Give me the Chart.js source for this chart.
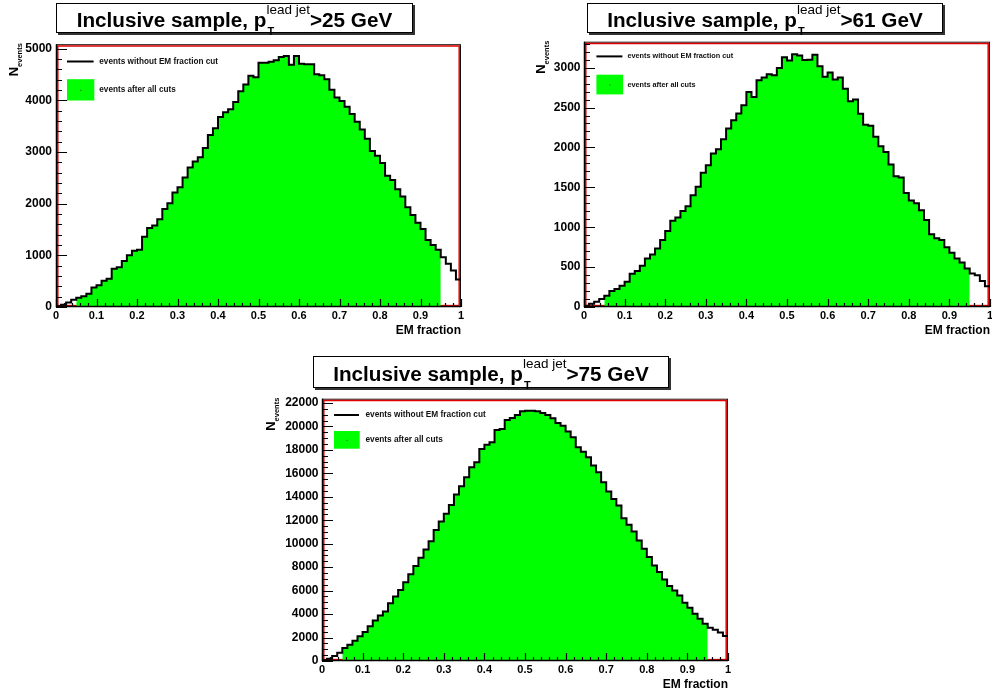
<!DOCTYPE html>
<html>
<head>
<meta charset="utf-8">
<script src="https://cdn.jsdelivr.net/npm/chart.js@4.4.0/dist/chart.umd.min.js"></script>
<style>
  body { margin: 0; width: 992px; height: 696px; background: #fff; position: relative; overflow: hidden;
         font-family: "Liberation Sans", Arial, sans-serif; }
  canvas { position: absolute; }
  .title { position: absolute; box-sizing: border-box; border: 1.5px solid #000; box-shadow: 2px 2px 0 #333;
           background: #fff; display: flex; justify-content: center; align-items: center; padding-top: 4px;
           font-weight: bold; font-size: 20.7px; white-space: nowrap; }
  .scr { position: relative; display: inline-block; }
  .sup { position: relative; top: -13px; font-weight: normal; font-size: 13.5px; }
  .sub { position: absolute; left: 1px; top: 18px; font-size: 11px; line-height: 1; }
</style>
</head>
<body>
<canvas id="h25" width="471" height="308" style="left:-4px;top:33px"></canvas>
<canvas id="h61" width="472" height="310" style="left:524px;top:31px"></canvas>
<canvas id="h75" width="472" height="307" style="left:262px;top:388px"></canvas>

<script>
// EM fraction of the leading jet, 80 bins from 0 to 1
var nBins = 80;
var cutLow = 0.05, cutHigh = 0.95;

var emPt25 = [15, 45, 85, 140, 180, 210, 255, 380, 420, 510,
  545, 740, 770, 890, 1000, 1090, 1110, 1360, 1530, 1580,
  1700, 1900, 2010, 2220, 2320, 2510, 2700, 2820, 2900, 3080,
  3330, 3460, 3680, 3770, 3830, 3970, 4180, 4310, 4480, 4450,
  4730, 4730, 4750, 4780, 4840, 4860, 4690, 4860, 4710, 4700,
  4700, 4510, 4490, 4410, 4210, 4060, 3990, 3880, 3740, 3590,
  3440, 3260, 3020, 2930, 2790, 2540, 2460, 2280, 2140, 1930,
  1780, 1630, 1510, 1300, 1200, 1110, 965, 840, 708, 535];

var emPt61 = [17, 40, 67, 100, 140, 200, 225, 267, 317, 417,
  450, 517, 609, 659, 734, 839, 951, 1081, 1122, 1202,
  1264, 1402, 1506, 1681, 1777, 1923, 1977, 2103, 2236, 2340,
  2424, 2528, 2695, 2633, 2841, 2875, 2916, 2904, 2995, 3130,
  3088, 3168, 3152, 3095, 3100, 3160, 3018, 2885, 2938, 2850,
  2875, 2735, 2578, 2600, 2422, 2284, 2272, 2134, 2016, 1942,
  1786, 1640, 1622, 1428, 1336, 1300, 1212, 1090, 913, 861,
  840, 749, 680, 607, 557, 482, 419, 398, 326, 261];

var emPt75 = [60, 200, 430, 710, 1100, 1390, 1720, 2100, 2480, 2970,
  3460, 3890, 4230, 4920, 5510, 6050, 6710, 7400, 8110, 8800,
  9500, 10220, 11180, 11890, 12550, 13310, 14190, 14900, 15670, 16520,
  16950, 18080, 18450, 18650, 19700, 19780, 20550, 20720, 20980, 21290,
  21340, 21340, 21290, 21150, 20980, 20690, 20290, 20070, 19560, 19070,
  18220, 17850, 17370, 16660, 16090, 15240, 14450, 13820, 13260, 12180,
  11610, 11040, 10280, 9570, 8860, 8150, 7580, 6960, 6390, 6020,
  5590, 4970, 4540, 4030, 3610, 3180, 2840, 2670, 2420, 2130];

var xTicks = [0, 0.1, 0.2, 0.3, 0.4, 0.5, 0.6, 0.7, 0.8, 0.9, 1];
var yTicks25 = [0, 1000, 2000, 3000, 4000, 5000];
var yTicks61 = [0, 500, 1000, 1500, 2000, 2500, 3000];
var yTicks75 = [0, 2000, 4000, 6000, 8000, 10000, 12000, 14000, 16000, 18000, 20000, 22000];

var ptCuts = ['25', '61', '75'];
var legendLabels = ['events without EM fraction cut', 'events after all cuts'];
var xTitle = 'EM fraction';

var FONT = '"Liberation Sans", Arial, sans-serif';

// step points at the lower bin edges, plus the closing edge
function stepPoints(values, from, to) {
  var pts = [];
  var w = 1 / nBins;
  for (var i = from; i < to; i++) {
    pts.push({x: i * w, y: values[i]});
  }
  pts.push({x: to * w, y: values[to - 1]});
  return pts;
}

function near(list, v, tol) {
  for (var i = 0; i < list.length; i++) {
    if (Math.abs(list[i] - v) < tol) return true;
  }
  return false;
}

// ROOT style frame, inner ticks, legend and axis titles
var rootPad = {
  id: 'rootPad',
  beforeDatasetsDraw: function(chart) {
    var a = chart.chartArea, ctx = chart.ctx;
    ctx.save();
    ctx.strokeStyle = '#111';
    ctx.lineWidth = 1;
    ctx.strokeRect(a.left + 0.5, a.top + 0.5, a.right - a.left - 1, a.bottom - a.top - 1);
    ctx.strokeStyle = '#e00000';
    ctx.lineWidth = 1.5;
    ctx.strokeRect(a.left + 1.8, a.top + 1.8, a.right - a.left - 3.6, a.bottom - a.top - 3.2);
    ctx.restore();
  },
  afterDatasetsDraw: function(chart, args, o) {
    var a = chart.chartArea, ctx = chart.ctx;
    var xs = chart.scales.x, ys = chart.scales.y;
    ctx.save();
    ctx.strokeStyle = '#000';
    ctx.lineWidth = 1.5;
    ctx.beginPath();
    ctx.moveTo(a.left + 0.5, a.top);
    ctx.lineTo(a.left + 0.5, a.bottom - 0.5);
    ctx.lineTo(a.right, a.bottom - 0.5);
    ctx.stroke();

    ctx.lineWidth = 1.2;
    ctx.beginPath();
    for (var v = 0; v <= ys.max + 1e-6; v += o.yMinor) {
      var py = Math.round(ys.getPixelForValue(v)) + 0.5;
      var len = near(o.yTicks, v, 1e-3) ? 11 : 6;
      ctx.moveTo(a.left, py);
      ctx.lineTo(a.left + len, py);
    }
    for (var k = 0; k <= 50; k++) {
      var xv = k * 0.02;
      var px = Math.round(xs.getPixelForValue(xv)) + 0.5;
      var xl = near(xTicks, xv, 1e-6) ? 8 : 4;
      ctx.moveTo(px, a.bottom);
      ctx.lineTo(px, a.bottom - xl);
    }
    ctx.stroke();
    ctx.restore();
  },
  afterDraw: function(chart, args, o) {
    var a = chart.chartArea, ctx = chart.ctx;
    var L = o.legend;
    ctx.save();

    // legend
    ctx.strokeStyle = '#000';
    ctx.lineWidth = 2;
    ctx.beginPath();
    ctx.moveTo(a.left + L.x0, a.top + L.y1);
    ctx.lineTo(a.left + L.x1, a.top + L.y1);
    ctx.stroke();
    ctx.fillStyle = '#00ff00';
    ctx.fillRect(a.left + L.x0, a.top + L.b0, L.x1 - L.x0 + 0.7, L.b1 - L.b0);
    ctx.fillStyle = '#333';
    ctx.fillRect(a.left + (L.x0 + L.x1) / 2, a.top + (L.b0 + L.b1) / 2, 1, 1);
    ctx.fillStyle = '#111';
    ctx.font = 'bold ' + L.size + 'px ' + FONT;
    ctx.textBaseline = 'middle';
    ctx.textAlign = 'left';
    ctx.fillText(legendLabels[0], a.left + L.tx, a.top + L.y1);
    ctx.fillText(legendLabels[1], a.left + L.tx, a.top + (L.b0 + L.b1) / 2);

    // x title
    ctx.fillStyle = '#000';
    ctx.font = 'bold 12px ' + FONT;
    ctx.textAlign = 'right';
    ctx.fillText(xTitle, a.right, a.bottom + 24);

    // y title, N with the events subscript, read bottom to top
    ctx.translate(a.left + o.yTitleX, a.top - 1);
    ctx.rotate(-Math.PI / 2);
    ctx.textBaseline = 'alphabetic';
    ctx.font = 'bold 7.5px ' + FONT;
    ctx.fillText('events', 0, 4);
    var w = ctx.measureText('events').width;
    ctx.font = 'bold 13px ' + FONT;
    ctx.fillText('N', -w, 0);
    ctx.restore();
  }
};

function histChart(id, values, yTicks, yMax, pad) {
  var yTickList = yTicks;
  return new Chart(document.getElementById(id), {
    type: 'line',
    data: {
      datasets: [{
        label: legendLabels[0],
        data: stepPoints(values, 0, nBins),
        stepped: true,
        borderColor: '#000',
        borderWidth: 2,
        pointRadius: 0,
        fill: false,
        order: 0
      }, {
        label: legendLabels[1],
        data: stepPoints(values, Math.round(cutLow * nBins), Math.round(cutHigh * nBins)),
        stepped: true,
        borderWidth: 0,
        borderColor: '#00ff00',
        backgroundColor: '#00ff00',
        pointRadius: 0,
        fill: 'origin',
        order: 1
      }]
    },
    options: {
      responsive: false,
      animation: false,
      devicePixelRatio: 1,
      layout: { padding: { left: 0, top: 10, right: 6, bottom: 0 } },
      plugins: {
        legend: { display: false },
        tooltip: { enabled: false },
        rootPad: pad
      },
      scales: {
        x: {
          type: 'linear',
          min: 0,
          max: 1,
          grid: { display: false, drawTicks: false },
          border: { display: false },
          afterBuildTicks: function(scale) {
            scale.ticks = xTicks.map(function(v) { return {value: v}; });
          },
          afterFit: function(scale) { scale.height = 34; },
          ticks: {
            autoSkip: false,
            maxRotation: 0,
            padding: 2,
            color: '#000',
            font: { family: FONT, size: 11, weight: 'bold' },
            callback: function(v) { return String(+v.toFixed(1)); }
          }
        },
        y: {
          min: 0,
          max: yMax,
          grid: { display: false, drawTicks: false },
          border: { display: false },
          afterBuildTicks: function(scale) {
            scale.ticks = yTickList.map(function(v) { return {value: v}; });
          },
          afterFit: function(scale) { scale.width = 60; },
          ticks: {
            padding: pad.labelGap,
            color: '#000',
            font: { family: FONT, size: 12, weight: 'bold' },
            callback: function(v) { return String(v); }
          }
        }
      }
    },
    plugins: [rootPad]
  });
}

histChart('h25', emPt25, yTicks25, 5090, {
  yTicks: yTicks25, yMinor: 200, yTitleX: -38, labelGap: 4,
  legend: { x0: 11, x1: 37.6, y1: 17.3, tx: 43.3, b0: 35, b1: 56.3, size: 8.2 }
});
histChart('h61', emPt61, yTicks61, 3325, {
  yTicks: yTicks61, yMinor: 100, yTitleX: -39, labelGap: 3.5,
  legend: { x0: 12.4, x1: 38.4, y1: 14.7, tx: 43.4, b0: 33, b1: 52.7, size: 7.3 }
});
histChart('h75', emPt75, yTicks75, 22366, {
  yTicks: yTicks75, yMinor: 500, yTitleX: -46.6, labelGap: 3.5,
  legend: { x0: 12, x1: 37, y1: 16.3, tx: 43.4, b0: 32.3, b1: 50, size: 8.3 }
});

// pad titles
var titleBoxes = [
  {left: 56, top: 3, width: 357, height: 30},
  {left: 587, top: 3, width: 356, height: 30},
  {left: 313, top: 356, width: 356, height: 32}
];
titleBoxes.forEach(function(b, i) {
  var div = document.createElement('div');
  div.className = 'title';
  div.style.left = b.left + 'px';
  div.style.top = b.top + 'px';
  div.style.width = b.width + 'px';
  div.style.height = b.height + 'px';
  div.innerHTML = 'Inclusive sample, p<span class="scr"><span class="sup">lead jet</span>' +
    '<span class="sub">T</span></span>&gt;' + ptCuts[i] + ' GeV';
  document.body.appendChild(div);
});
</script>
</body>
</html>
